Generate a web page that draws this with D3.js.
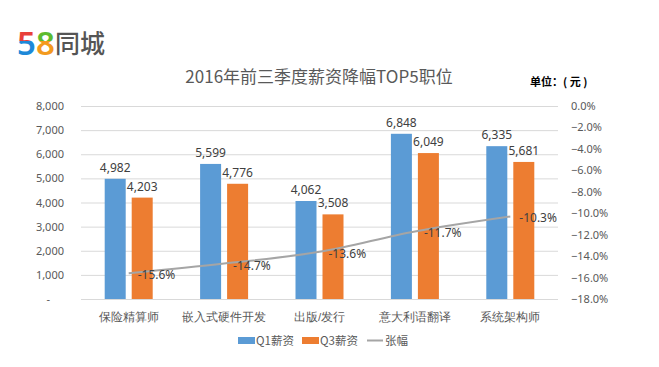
<!DOCTYPE html>
<html><head><meta charset="utf-8">
<script src="https://cdn.jsdelivr.net/npm/d3@7"></script>
<style>body{margin:0;background:#fff}svg{display:block;font-family:"Microsoft YaHei","Noto Sans CJK SC",sans-serif}</style>
</head><body><svg id="c" width="659" height="367"></svg>
<script>
const categories = ["保险精算师","嵌入式硬件开发","出版/发行","意大利语翻译","系统架构师"];
const q1 = [4982,5599,4062,6848,6335];
const q3 = [4203,4776,3508,6049,5681];
const change = [-15.6,-14.7,-13.6,-11.7,-10.3];
const leftTicks = [0,1000,2000,3000,4000,5000,6000,7000,8000];
const rightTicks = [0,-2,-4,-6,-8,-10,-12,-14,-16,-18];
const seriesNames = ["Q1薪资","Q3薪资","张幅"];
const colors = ["#5B9BD5","#ED7D31","#A5A5A5"];

const svg = d3.select("#c");
const m = {l:81, r:558, t:106, b:299};
const x = d3.scaleBand().domain(categories).range([m.l,m.r]);
const y = d3.scaleLinear().domain([0,8000]).range([m.b,m.t]);
const y2 = d3.scaleLinear().domain([-18,0]).range([m.b,m.t]);
const fmt = d3.format(",");

// logo
const defs = svg.append("defs");
function grad(id,c1,c2){
  const g = defs.append("linearGradient").attr("id",id).attr("x1",0).attr("x2",0).attr("y1",0).attr("y2",1);
  g.append("stop").attr("offset","46%").attr("stop-color",c1);
  g.append("stop").attr("offset","46%").attr("stop-color",c2);
}
grad("g5","#E8403A","#1E88D8");
grad("g8","#5DBB2F","#F39A1E");
const logo = svg.append("text").attr("x",17).attr("y",55)
  .attr("font-family","Noto Sans, DejaVu Sans, sans-serif").attr("font-weight","600").attr("font-size",33);
logo.append("tspan").attr("fill","url(#g5)").text("5");
logo.append("tspan").attr("fill","url(#g8)").text("8");
svg.append("text").attr("x",55).attr("y",53).attr("font-size",25).attr("fill","#555")
  .attr("font-family","Noto Sans CJK SC").attr("font-weight","500").text("同城");

// title
svg.append("text").attr("x",319).attr("y",83).attr("text-anchor","middle").attr("font-size",17)
  .attr("fill","#595959").text("2016年前三季度薪资降幅TOP5职位");
svg.append("text").attr("x",530).attr("y",86).attr("font-size",11).attr("font-weight","bold")
  .attr("fill","#000").text("单位：( 元 )");

// gridlines
svg.append("g").selectAll("line").data(leftTicks).join("line")
  .attr("x1",m.l).attr("x2",m.r).attr("y1",d=>y(d)+0.5).attr("y2",d=>y(d)+0.5)
  .attr("stroke","#D9D9D9").attr("stroke-width",1);

// left axis
const la = svg.append("g").attr("transform",`translate(${m.l-14},0)`)
  .call(d3.axisLeft(y).tickValues(leftTicks).tickSize(0).tickFormat(d=>d===0?"-":fmt(d)));
la.select(".domain").remove();
la.selectAll("text").attr("font-size",11).attr("fill","#595959").attr("font-family","Noto Sans, sans-serif");
la.selectAll(".tick text").filter(d=>d===0).attr("dx",-14);

// right axis
const ra = svg.append("g").attr("transform",`translate(${m.r+10},0)`)
  .call(d3.axisRight(y2).tickValues(rightTicks).tickSize(0).tickFormat(d=>d3.format(".1f")(d)+"%"));
ra.select(".domain").remove();
ra.selectAll("text").attr("font-size",11).attr("fill","#595959").attr("font-family","Noto Sans, sans-serif");

// category axis
const ca = svg.append("g").attr("transform",`translate(0,${m.b+11})`)
  .call(d3.axisBottom(x).tickSize(0));
ca.select(".domain").remove();
ca.selectAll("text").attr("font-size",11.5).attr("fill","#595959");

// bars
const bw = 21, gap = 6;
const bars = svg.append("g");
[q1,q3].forEach((arr,si)=>{
  const off = si===0 ? -gap/2-bw : gap/2;
  bars.selectAll(null).data(arr).join("rect")
    .attr("x",(d,i)=>x(categories[i])+x.bandwidth()/2+off)
    .attr("y",d=>y(d)).attr("width",bw).attr("height",d=>y(0)-y(d))
    .attr("fill",colors[si]);
  bars.selectAll(null).data(arr).join("text")
    .attr("x",(d,i)=>x(categories[i])+x.bandwidth()/2+off+bw/2)
    .attr("y",d=>y(d)-7).attr("text-anchor","middle").attr("font-size",12)
    .attr("fill","#404040").attr("font-family","Noto Sans, sans-serif").text(d=>fmt(d));
});

// line
const line = d3.line().x((d,i)=>x(categories[i])+x.bandwidth()/2).y(d=>y2(d)).curve(d3.curveMonotoneX);
svg.append("path").attr("d",line(change)).attr("fill","none").attr("stroke",colors[2]).attr("stroke-width",2);
svg.append("g").selectAll("text").data(change).join("text")
  .attr("x",(d,i)=>x(categories[i])+x.bandwidth()/2+9).attr("y",d=>y2(d)+6)
  .attr("font-size",12).attr("fill","#404040").attr("font-family","Noto Sans, sans-serif")
  .text(d=>d.toFixed(1)+"%");

// legend
const lg = svg.append("g").attr("font-size",11.5).attr("fill","#595959");
const lx = [238,302,367];
seriesNames.forEach((n,i)=>{
  if(i<2) lg.append("rect").attr("x",lx[i]).attr("y",337).attr("width",17).attr("height",7).attr("fill",colors[i]);
  else lg.append("line").attr("x1",lx[i]).attr("x2",lx[i]+16).attr("y1",340.5).attr("y2",340.5).attr("stroke",colors[i]).attr("stroke-width",2);
  lg.append("text").attr("x",lx[i]+18).attr("y",345).attr("fill","#595959").text(n);
});
</script></body></html>
